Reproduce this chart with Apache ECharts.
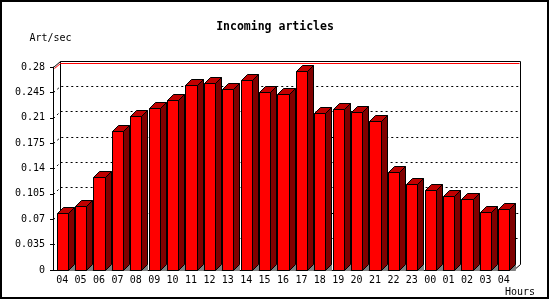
<!DOCTYPE html>
<html>
<head>
<meta charset="utf-8">
<script src="https://cdn.jsdelivr.net/npm/echarts@6/dist/echarts.min.js"></script>
<style>html,body{margin:0;padding:0;background:#fff}#c{width:550px;height:300px}</style>
</head>
<body>
<div id="c"></div>
<script>
const hours = ['04','05','06','07','08','09','10','11','12','13','14','15','16','17','18','19','20','21','22','23','00','01','02','03','04'];
const rates = [0.079,0.088,0.128,0.192,0.213,0.224,0.234,0.255,0.258,0.249,0.262,0.246,0.243,0.275,0.217,0.222,0.218,0.206,0.135,0.118,0.110,0.102,0.098,0.080,0.084];
const gridValues = [0.035,0.07,0.105,0.14,0.175,0.21,0.245];
const yMax = 0.28;
const yStep = 0.035;

const FONT = 'DejaVu Sans Mono';
const DX = 6, DY = 6;      // bar depth
const WX = 7, WY = 6.5;    // wall depth

const chart = echarts.init(document.getElementById('c'), null, {renderer:'canvas'});

function px(v){ return Math.round(v) + 0.5; }

chart.setOption({
  animation: false,
  backgroundColor: '#ffffff',
  title: {
    text: 'Incoming articles', left: 'center', top: 16,
    textStyle: {fontFamily: FONT, fontWeight: 'bold', fontSize: 11.5, color: '#000'}
  },
  grid: {left: 53, right: 37, top: 67, bottom: 30, outerBoundsMode: 'none'},
  xAxis: {
    type: 'category', data: hours,
    name: 'Hours', nameLocation: 'end', nameGap: -8,
    nameTextStyle: {fontFamily: FONT, fontSize: 10, color: '#000', align: 'left', verticalAlign: 'top', padding: [17,0,0,0]},
    axisLine: {lineStyle: {color: '#000', width: 1}},
    axisTick: {length: 3, lineStyle: {color: '#000'}},
    axisLabel: {fontFamily: FONT, fontSize: 10, color: '#000', margin: 5, interval: 0}
  },
  yAxis: {
    type: 'value', min: 0, max: yMax, interval: yStep,
    name: 'Art/sec', nameLocation: 'end', nameGap: 24,
    nameTextStyle: {fontFamily: FONT, fontSize: 10, color: '#000', padding: [0,5,0,0]},
    axisLine: {show: true, lineStyle: {color: '#000', width: 1}},
    axisTick: {show: true, length: 3, lineStyle: {color: '#000'}},
    axisLabel: {fontFamily: FONT, fontSize: 10, color: '#000', margin: 8},
    splitLine: {show: false}
  },
  graphic: [{
    type: 'rect', z: 100, silent: true,
    shape: {x: 1, y: 1, width: 547, height: 297},
    style: {fill: 'none', stroke: '#000', lineWidth: 2}
  }],
  series: [
    {
      type: 'custom', z: 1, silent: true,
      data: gridValues.map(v => [0, v]),
      renderItem: function(params, api){
        const n = hours.length;
        const band = api.size([1,0])[0];
        const p = api.coord([0, api.value(1)]);
        const left = api.coord([0, 0])[0] - band/2;
        const right = api.coord([n-1, 0])[0] + band/2;
        const y = p[1];
        return {
          type: 'polyline',
          shape: {points: [[px(left), px(y)], [px(left+WX), px(y-WY)], [px(right+WX), px(y-WY)]]},
          style: {stroke: '#000', fill: 'none', lineWidth: 1, lineDash: [2,3]}
        };
      }
    },
    {
      type: 'custom', z: 2, silent: true,
      data: [[0, yMax]],
      renderItem: function(params, api){
        const n = hours.length;
        const band = api.size([1,0])[0];
        const left = api.coord([0, 0])[0] - band/2;
        const right = api.coord([n-1, 0])[0] + band/2;
        const yTop = api.coord([0, yMax])[1];
        const yBot = api.coord([0, 0])[1];
        const L = px(left), R = px(right), T = px(yTop), B = px(yBot);
        const LW = px(left+WX), RW = px(right+WX), TW = px(yTop-WY), BW = px(yBot-WY);
        return {
          type: 'group',
          children: [
            {type: 'polyline', shape: {points: [[L,T],[LW,TW],[RW,TW],[RW,BW],[R,B]]},
             style: {stroke: '#000', fill: 'none', lineWidth: 1}},
            {type: 'polyline', shape: {points: [[LW,TW],[LW,BW]]},
             style: {stroke: '#000', fill: 'none', lineWidth: 1}},
            {type: 'polyline', shape: {points: [[L+1,T+1],[LW,TW+2],[RW-1,TW+2]]},
             style: {stroke: '#ff0000', fill: 'none', lineWidth: 1}}
          ]
        };
      }
    },
    {
      type: 'custom', z: 3, silent: true,
      data: rates.map((v, i) => [i, v]),
      renderItem: function(params, api){
        const i = api.value(0), v = api.value(1);
        const base = api.coord([i, 0]);
        const top = api.coord([i, v]);
        const band = api.size([1,0])[0];
        const w = band * 0.6;
        const x0 = px(base[0] - w/2), x1 = px(base[0] + w/2);
        const y0 = px(base[1]), yt = px(top[1]);
        const st = {stroke: '#000', lineWidth: 1};
        return {
          type: 'group',
          children: [
            {type: 'polygon', shape: {points: [[x1,y0],[x1+DX,y0-DY],[x1+DX,y0]]},
             style: {fill: '#808080', stroke: '#808080', lineWidth: 1}},
            {type: 'polygon', shape: {points: [[x1,yt],[x1+DX,yt-DY],[x1+DX,y0-DY],[x1,y0]]},
             style: Object.assign({fill: '#800000'}, st)},
            {type: 'polygon', shape: {points: [[x0,yt],[x0+DX,yt-DY],[x1+DX,yt-DY],[x1,yt]]},
             style: Object.assign({fill: '#c00000'}, st)},
            {type: 'rect', shape: {x: x0, y: yt, width: x1-x0, height: y0-yt},
             style: Object.assign({fill: '#ff0000'}, st)}
          ]
        };
      }
    }
  ]
});
</script>
</body>
</html>
